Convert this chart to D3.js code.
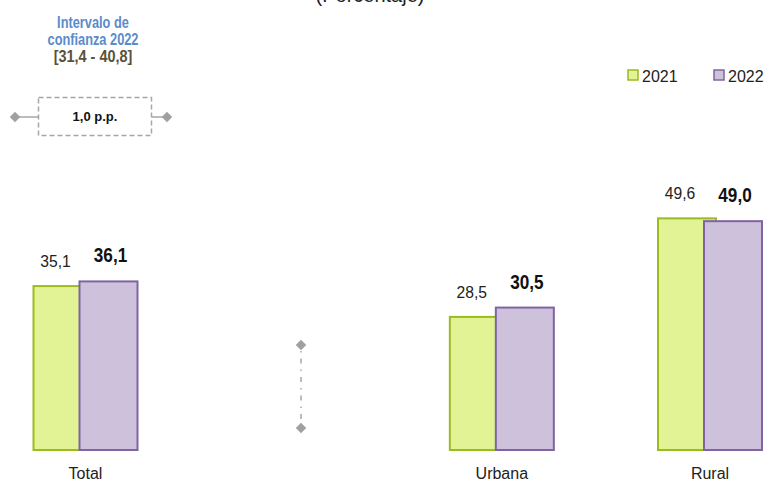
<!DOCTYPE html>
<html><head><meta charset="utf-8">
<script src="https://cdn.jsdelivr.net/npm/d3@7"></script>
<style>body{margin:0;background:#fff}svg{display:block}text{font-family:"Liberation Sans",Arial,sans-serif}</style>
</head><body>
<svg id="c" width="767" height="481"></svg>
<script>
const categories = ["Total", "", "Urbana", "Rural"];
const series = ["2021", "2022"];
const values2021 = [35.1, null, 28.5, 49.6];
const values2022 = [36.1, null, 30.5, 49.0];
const labels2021 = ["35,1", "", "28,5", "49,6"];
const labels2022 = ["36,1", "", "30,5", "49,0"];
const intervalTitle = ["Intervalo de", "confianza 2022"];
const intervalRange = "[31,4 - 40,8]";
const intervalDiff = "1,0 p.p.";
const subtitle = "(Porcentaje)";

const svg = d3.select("#c");
const fills = {"2021": "#e2f395", "2022": "#cdc1dc"};
const strokes = {"2021": "#9bbb1e", "2022": "#8064a2"};

const x = d3.scalePoint().domain(categories).range([85.5, 710]);
const x1 = d3.scalePoint().domain(series).range([-52, -6]);
const barW = 58;
const y = d3.scaleLinear().domain([0, 50]).range([450, 450 - 233.5]);

svg.append("text").attr("x", 370).attr("y", 2).attr("text-anchor", "middle")
  .style("font-size", "20px").attr("fill", "#222").text(subtitle);

const data = categories.map((c, i) => ({c, v: [values2021[i], values2022[i]], l: [labels2021[i], labels2022[i]]}));

series.forEach((s, si) => {
  const g = svg.append("g");
  const d = data.filter(e => e.v[si] != null);
  g.selectAll("rect").data(d).join("rect")
    .attr("x", e => x(e.c) + x1(s))
    .attr("y", e => y(e.v[si]))
    .attr("width", barW)
    .attr("height", e => y(0) - y(e.v[si]))
    .attr("fill", fills[s]).attr("stroke", strokes[s]).attr("stroke-width", 2);
  g.selectAll("text").data(d).join("text")
    .attr("transform", e => `translate(${x(e.c) + x1(s) + barW / 2 + (si === 0 ? -7 : 2)},${y(e.v[si]) - 19}) scale(${si === 0 ? 0.95 : 0.88},1)`)
    .attr("text-anchor", "middle")
    .style("font-size", si === 0 ? "16.5px" : "19.5px")
    .style("font-weight", si === 0 ? "normal" : "bold")
    .attr("fill", si === 0 ? "#222" : "#111")
    .text(e => e.l[si]);
});

svg.append("g").selectAll("text").data(categories.filter(c => c)).join("text")
  .attr("x", c => x(c)).attr("y", 479).attr("text-anchor", "middle")
  .style("font-size", "16px").attr("fill", "#222").text(c => c);

// legend
const leg = svg.append("g");
const legX = [628, 714];
series.forEach((s, i) => {
  leg.append("rect").attr("x", legX[i]).attr("y", 70).attr("width", 10).attr("height", 10)
    .attr("fill", fills[s]).attr("stroke", strokes[s]).attr("stroke-width", 1.5);
  leg.append("text").attr("x", legX[i] + 14).attr("y", 82).style("font-size", "16px")
    .attr("fill", "#222").text(s);
});

// interval annotation
const ia = svg.append("g");
ia.selectAll("text.t").data(intervalTitle).join("text").attr("class", "t")
  .attr("transform", (d, i) => `translate(93,${28 + i * 17}) scale(0.8,1)`).attr("text-anchor", "middle")
  .style("font-size", "16px").style("font-weight", "bold")
  .attr("fill", "#5b8bc9").text(d => d);
ia.append("text").attr("transform", "translate(93,62) scale(0.85,1)").attr("text-anchor", "middle")
  .style("font-size", "17px").style("font-weight", "bold").attr("fill", "#5a5238").text(intervalRange);
ia.append("rect").attr("x", 38.5).attr("y", 97.5).attr("width", 113).attr("height", 38)
  .attr("fill", "none").attr("stroke", "#a6a6a6").attr("stroke-width", 1.5).attr("stroke-dasharray", "5,3");
ia.append("line").attr("x1", 15).attr("x2", 38).attr("y1", 117).attr("y2", 117).attr("stroke", "#a6a6a6").attr("stroke-width", 1.5);
ia.append("line").attr("x1", 152).attr("x2", 167).attr("y1", 117).attr("y2", 117).attr("stroke", "#a6a6a6").attr("stroke-width", 1.5);
const diamond = d3.symbol().type(d3.symbolDiamond2).size(70);
[[15,117],[167,117],[301,345],[301,428]].forEach(p => {
  ia.append("path").attr("d", diamond()).attr("transform", `translate(${p[0]},${p[1]})`).attr("fill", "#a0a0a0");
});
ia.append("text").attr("x", 95).attr("y", 121).attr("text-anchor", "middle")
  .style("font-size", "13px").style("font-weight", "bold").attr("fill", "#111").text(intervalDiff);
ia.append("line").attr("x1", 301).attr("x2", 301).attr("y1", 351).attr("y2", 422)
  .attr("stroke", "#a6a6a6").attr("stroke-width", 1.5).attr("stroke-dasharray", "1.5,6,5,6");
</script>
</body></html>
